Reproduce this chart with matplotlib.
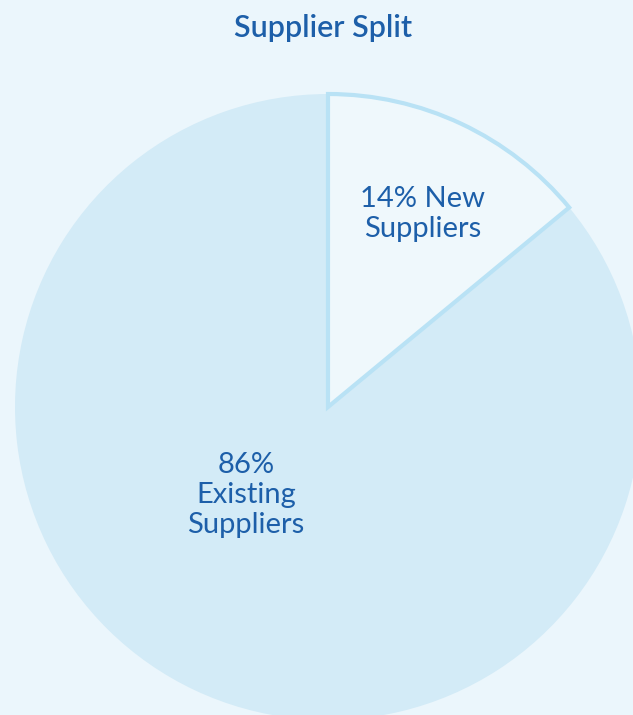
import matplotlib.pyplot as plt

labels = ["14% New\nSuppliers", "86%\nExisting\nSuppliers"]
shares = [14, 86]

bg = "#ebf6fc"
fills = ["#eff8fc", "#d3ebf7"]
edge = "#b9e2f5"
blue = "#1d5fa9"

W, H = 633, 715
fig = plt.figure(figsize=(W / 100, H / 100), dpi=100, facecolor=bg)
ax = fig.add_axes([0, 0, 1, 1])

# pie in pixel units so it can spill past the figure edges
cx, cy, r = 328, H - 407, 313
wedges, _ = ax.pie(shares, startangle=90, counterclock=False, colors=fills,
                   center=(cx, cy), radius=r, frame=True)
wedges[0].set_edgecolor(edge)
wedges[0].set_linewidth(3)
wedges[0].set_zorder(3)
wedges[1].set_linewidth(0)

ax.set_xlim(0, W)
ax.set_ylim(0, H)
ax.set_aspect("equal")
ax.axis("off")

font = ["Lato", "DejaVu Sans"]
ax.text(423, H - 214, labels[0], ha="center", va="center", fontsize=21,
        color=blue, family=font, linespacing=1.17, zorder=5)
ax.text(246, H - 495, labels[1], ha="center", va="center", fontsize=21,
        color=blue, family=font, linespacing=1.17, zorder=5)

fig.text(323 / W, 1 - 28 / H, "Supplier Split", ha="center", va="center",
         fontsize=22, fontweight="semibold", color=blue, family=font)

fig.savefig("out.png", dpi=100, facecolor=bg)
